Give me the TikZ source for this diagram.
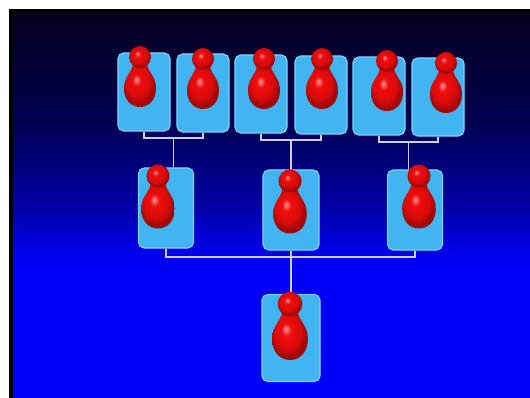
\documentclass[tikz,border=0pt]{standalone}
\usetikzlibrary{calc}

\definecolor{cardblue}{RGB}{66,180,242}
\definecolor{cardedge}{RGB}{125,212,255}
\definecolor{linkgray}{RGB}{205,205,250}
\definecolor{skytop}{RGB}{6,0,30}
\definecolor{skymid}{RGB}{0,0,80}
\definecolor{skylow}{RGB}{0,0,165}
\definecolor{skyblue}{RGB}{0,0,245}
\definecolor{pawnred}{RGB}{238,12,12}

\pgfdeclareverticalshading{sky}{100bp}{color(0bp)=(skyblue); color(25bp)=(skyblue);
  color(43bp)=(skyblue); color(50bp)=(skylow); color(61bp)=(skymid);
  color(75bp)=(skytop); color(100bp)=(skytop)}
\pgfdeclareradialshading{pawnshade}{\pgfqpoint{-6bp}{8bp}}{color(0bp)=(pawnred!45!white);
  color(7bp)=(pawnred); color(18bp)=(pawnred!92!black); color(25bp)=(pawnred!68!black);
  color(50bp)=(pawnred!68!black)}

\tikzset{
  card/.style={rectangle, rounded corners=4pt, fill=cardblue, draw=cardedge,
    line width=0.8pt, minimum width=1.3cm, minimum height=1.95cm, inner sep=0pt},
  link/.style={draw=linkgray, line width=1.4pt},
  pics/pawn/.style={code={
    \shade[shading=pawnshade] (-7,8) .. controls (-9,16) and (-16,20) .. (-16,31)
      .. controls (-16,44) and (-8,50) .. (0,50) .. controls (8,50) and (16,44) .. (16,31)
      .. controls (16,20) and (9,16) .. (7,8) -- cycle;
    \shade[shading=pawnshade] (0,0) circle [radius=11];
  }}
}

\begin{document}
\begin{tikzpicture}[x=0.025cm, y=-0.025cm]
  %frame
  \fill[white] (0,0) rectangle (530,398);
  \fill[black] (9,9) rectangle (530,398);
  \shade[shading=sky] (13,13) rectangle (530,398);
  \useasboundingbox (0,0) rectangle (530,398);

  %cards
  \foreach \x/\y [count=\i] in {144/92, 203/93, 261/94, 321/95, 379/96, 438/97}
    \node[card] (t\i) at (\x,\y) {};
  \node[card, minimum width=1.375cm, minimum height=2cm] (m1) at (166,208) {};
  \node[card, minimum width=1.4cm, minimum height=2cm] (m2) at (291,210) {};
  \node[card, minimum width=1.375cm, minimum height=2cm] (m3) at (415,210) {};
  \node[card, minimum width=1.45cm, minimum height=2.175cm] (b) at (291,338) {};

  %links
  \coordinate (j1) at ($(t1.south)!0.5!(t2.south)+(0,6)$);
  \coordinate (j2) at ($(t3.south)!0.5!(t4.south)+(0,6)$);
  \coordinate (j3) at ($(t5.south)!0.5!(t6.south)+(0,6)$);
  \coordinate (j4) at ($(m2.south)+(0,6)$);
  \draw[link] (t1.south) |- (j1) -| (t2.south);
  \draw[link] (t3.south) |- (j2) -| (t4.south);
  \draw[link] (t5.south) |- (j3) -| (t6.south);
  \draw[link] (j1) -- (j1 |- m1.north);
  \draw[link] (j2) -- (j2 |- m2.north);
  \draw[link] (j3) -- (j3 |- m3.north);
  \draw[link] (m1.south) |- (j4) -| (m3.south);
  \draw[link] (m2.south) -- (b.north);

  %pawns
  \foreach \x/\y in {140/57, 203/59, 264/59, 322/59, 387/61, 446/63}
    \pic at (\x,\y) {pawn};
  \pic[scale=1.05] at (158,176) {pawn};
  \pic[scale=1.05] at (290,181) {pawn};
  \pic[scale=1.05] at (419,176) {pawn};
  \pic[scale=1.12] at (290,304) {pawn};
\end{tikzpicture}
\end{document}
